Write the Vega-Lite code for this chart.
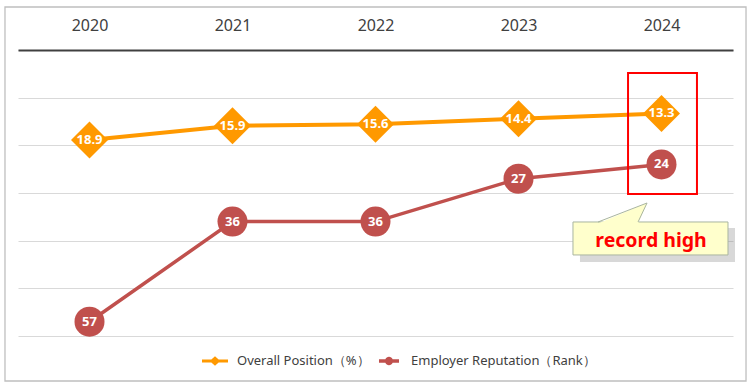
{
  "$schema": "https://vega.github.io/schema/vega-lite/v6.json",
  "width": 715,
  "height": 286,
  "autosize": {"type": "none"},
  "padding": {"left": 18, "top": 50, "right": 22, "bottom": 53},
  "background": "white",
  "config": {"view": {"stroke": null}, "font": "Noto Sans"},
  "datasets": {
    "series": [
      {"year": 2020, "series": "Overall Position（%）", "value": 18.9},
      {"year": 2021, "series": "Overall Position（%）", "value": 15.9},
      {"year": 2022, "series": "Overall Position（%）", "value": 15.6},
      {"year": 2023, "series": "Overall Position（%）", "value": 14.4},
      {"year": 2024, "series": "Overall Position（%）", "value": 13.3},
      {"year": 2020, "series": "Employer Reputation（Rank）", "value": 57},
      {"year": 2021, "series": "Employer Reputation（Rank）", "value": 36},
      {"year": 2022, "series": "Employer Reputation（Rank）", "value": 36},
      {"year": 2023, "series": "Employer Reputation（Rank）", "value": 27},
      {"year": 2024, "series": "Employer Reputation（Rank）", "value": 24}
    ]
  },
  "layer": [
    {
      "data": {"values": [{}]},
      "mark": {"type": "rect", "fill": null, "stroke": "#bfbfbf", "strokeWidth": 1.3},
      "encoding": {
        "x": {"datum": 2019.409, "type": "quantitative", "title": null, "scale": {"domain": [2019.5, 2024.5], "nice": false, "zero": false}, "axis": {"orient": "top", "values": [2020, 2021, 2022, 2023, 2024], "format": "d", "grid": false, "ticks": false, "domain": true, "domainColor": "#404040", "domainWidth": 2.2, "labelFontSize": 16, "labelColor": "#404040", "labelFont": "Noto Sans", "labelPadding": 17, "zindex": 1, "title": null}},
        "x2": {"datum": 2024.591},
        "y": {"datum": -9.02, "type": "quantitative", "title": null, "scale": {"domain": [0, 60], "reverse": true, "nice": false, "zero": false}, "axis": {"values": [0, 10, 20, 30, 40, 50, 60], "labels": false, "ticks": false, "domain": false, "grid": true, "gridColor": "#d9d9d9", "gridWidth": 1, "zindex": 0, "title": null}},
        "y2": {"datum": 69.44}
      }
    },
    {
      "data": {"name": "series"},
      "mark": {"type": "line"},
      "encoding": {
        "x": {"field": "year", "type": "quantitative", "title": null, "scale": {"domain": [2019.5, 2024.5], "nice": false, "zero": false}, "axis": {"orient": "top", "values": [2020, 2021, 2022, 2023, 2024], "format": "d", "grid": false, "ticks": false, "domain": true, "domainColor": "#404040", "domainWidth": 2.2, "labelFontSize": 16, "labelColor": "#404040", "labelFont": "Noto Sans", "labelPadding": 17, "zindex": 1, "title": null}},
        "y": {"field": "value", "type": "quantitative", "title": null, "scale": {"domain": [0, 60], "reverse": true, "nice": false, "zero": false}, "axis": {"values": [0, 10, 20, 30, 40, 50, 60], "labels": false, "ticks": false, "domain": false, "grid": true, "gridColor": "#d9d9d9", "gridWidth": 1, "zindex": 0, "title": null}},
        "detail": {"field": "series", "type": "nominal"},
        "color": {"condition": {"test": "datum.series === 'Overall Position（%）'", "value": "#ff9900"}, "value": "#c0504d"},
        "strokeWidth": {"condition": {"test": "datum.series === 'Overall Position（%）'", "value": 4}, "value": 3.5}
      }
    },
    {
      "data": {"name": "series"},
      "mark": {"type": "point", "filled": true, "opacity": 0, "strokeWidth": 0, "size": 0},
      "encoding": {
        "x": {"field": "year", "type": "quantitative", "title": null, "scale": {"domain": [2019.5, 2024.5], "nice": false, "zero": false}, "axis": {"orient": "top", "values": [2020, 2021, 2022, 2023, 2024], "format": "d", "grid": false, "ticks": false, "domain": true, "domainColor": "#404040", "domainWidth": 2.2, "labelFontSize": 16, "labelColor": "#404040", "labelFont": "Noto Sans", "labelPadding": 17, "zindex": 1, "title": null}},
        "y": {"field": "value", "type": "quantitative", "title": null, "scale": {"domain": [0, 60], "reverse": true, "nice": false, "zero": false}, "axis": {"values": [0, 10, 20, 30, 40, 50, 60], "labels": false, "ticks": false, "domain": false, "grid": true, "gridColor": "#d9d9d9", "gridWidth": 1, "zindex": 0, "title": null}},
        "color": {"field": "series", "type": "nominal",
          "scale": {"domain": ["Overall Position（%）", "Employer Reputation（Rank）"], "range": ["#ff9900", "#c0504d"]},
          "legend": {"orient": "none", "legendX": 184, "legendY": 298, "direction": "horizontal", "title": null,
            "labelFontSize": 13, "labelColor": "#404040", "labelFont": "Noto Sans", "labelLimit": 400, "symbolSize": 676,
            "symbolOpacity": 1, "symbolStrokeWidth": 0, "columnPadding": 6, "labelOffset": 9}},
        "shape": {"field": "series", "type": "nominal",
          "scale": {"domain": ["Overall Position（%）", "Employer Reputation（Rank）"], "range": ["M-1,-0.12L-0.28,-0.12L0,-0.36L0.28,-0.12L1,-0.12L1,0.12L0.28,0.12L0,0.36L-0.28,0.12L-1,0.12Z", "M-0.77,-0.13L-0.28,-0.13A0.3,0.3,0,0,1,0.28,-0.13L0.77,-0.13L0.77,0.13L0.28,0.13A0.3,0.3,0,0,1,-0.28,0.13L-0.77,0.13Z"]},
          "legend": {"orient": "none", "legendX": 184, "legendY": 298, "direction": "horizontal", "title": null,
            "labelFontSize": 13, "labelColor": "#404040", "labelFont": "Noto Sans", "labelLimit": 400, "symbolSize": 676,
            "symbolOpacity": 1, "symbolStrokeWidth": 0, "columnPadding": 6, "labelOffset": 9}}
      }
    },
    {
      "data": {"name": "series"},
      "mark": {"type": "point", "filled": true, "opacity": 1, "strokeWidth": 0},
      "encoding": {
        "x": {"field": "year", "type": "quantitative", "title": null, "scale": {"domain": [2019.5, 2024.5], "nice": false, "zero": false}, "axis": {"orient": "top", "values": [2020, 2021, 2022, 2023, 2024], "format": "d", "grid": false, "ticks": false, "domain": true, "domainColor": "#404040", "domainWidth": 2.2, "labelFontSize": 16, "labelColor": "#404040", "labelFont": "Noto Sans", "labelPadding": 17, "zindex": 1, "title": null}},
        "y": {"field": "value", "type": "quantitative", "title": null, "scale": {"domain": [0, 60], "reverse": true, "nice": false, "zero": false}, "axis": {"values": [0, 10, 20, 30, 40, 50, 60], "labels": false, "ticks": false, "domain": false, "grid": true, "gridColor": "#d9d9d9", "gridWidth": 1, "zindex": 0, "title": null}},
        "shape": {"condition": {"test": "datum.series === 'Overall Position（%）'", "value": "diamond"}, "value": "circle"},
        "size": {"condition": {"test": "datum.series === 'Overall Position（%）'", "value": 1369}, "value": 900},
        "color": {"condition": {"test": "datum.series === 'Overall Position（%）'", "value": "#ff9900"}, "value": "#c0504d"}
      }
    },
    {
      "data": {"name": "series"},
      "mark": {"type": "text", "color": "white", "fontWeight": "bold", "fontSize": 13, "font": "Noto Sans", "baseline": "middle", "align": "center"},
      "encoding": {
        "x": {"field": "year", "type": "quantitative", "title": null, "scale": {"domain": [2019.5, 2024.5], "nice": false, "zero": false}, "axis": {"orient": "top", "values": [2020, 2021, 2022, 2023, 2024], "format": "d", "grid": false, "ticks": false, "domain": true, "domainColor": "#404040", "domainWidth": 2.2, "labelFontSize": 16, "labelColor": "#404040", "labelFont": "Noto Sans", "labelPadding": 17, "zindex": 1, "title": null}},
        "y": {"field": "value", "type": "quantitative", "title": null, "scale": {"domain": [0, 60], "reverse": true, "nice": false, "zero": false}, "axis": {"values": [0, 10, 20, 30, 40, 50, 60], "labels": false, "ticks": false, "domain": false, "grid": true, "gridColor": "#d9d9d9", "gridWidth": 1, "zindex": 0, "title": null}},
        "text": {"field": "value", "type": "quantitative"}
      }
    },
    {
      "data": {"values": [{}]},
      "mark": {"type": "rect", "fill": null, "stroke": "#ff0000", "strokeWidth": 2},
      "encoding": {
        "x": {"datum": 2023.766, "type": "quantitative", "title": null, "scale": {"domain": [2019.5, 2024.5], "nice": false, "zero": false}, "axis": {"orient": "top", "values": [2020, 2021, 2022, 2023, 2024], "format": "d", "grid": false, "ticks": false, "domain": true, "domainColor": "#404040", "domainWidth": 2.2, "labelFontSize": 16, "labelColor": "#404040", "labelFont": "Noto Sans", "labelPadding": 17, "zindex": 1, "title": null}},
        "x2": {"datum": 2024.248},
        "y": {"datum": 4.83, "type": "quantitative", "title": null, "scale": {"domain": [0, 60], "reverse": true, "nice": false, "zero": false}, "axis": {"values": [0, 10, 20, 30, 40, 50, 60], "labels": false, "ticks": false, "domain": false, "grid": true, "gridColor": "#d9d9d9", "gridWidth": 1, "zindex": 0, "title": null}},
        "y2": {"datum": 30.2}
      }
    },
    {
      "data": {"values": [{}]},
      "mark": {"type": "rect", "fill": "#7f7f7f", "opacity": 0.3},
      "encoding": {
        "x": {"datum": 2023.43, "type": "quantitative", "title": null, "scale": {"domain": [2019.5, 2024.5], "nice": false, "zero": false}, "axis": {"orient": "top", "values": [2020, 2021, 2022, 2023, 2024], "format": "d", "grid": false, "ticks": false, "domain": true, "domainColor": "#404040", "domainWidth": 2.2, "labelFontSize": 16, "labelColor": "#404040", "labelFont": "Noto Sans", "labelPadding": 17, "zindex": 1, "title": null}},
        "x2": {"datum": 2024.514},
        "y": {"datum": 37.34, "type": "quantitative", "title": null, "scale": {"domain": [0, 60], "reverse": true, "nice": false, "zero": false}, "axis": {"values": [0, 10, 20, 30, 40, 50, 60], "labels": false, "ticks": false, "domain": false, "grid": true, "gridColor": "#d9d9d9", "gridWidth": 1, "zindex": 0, "title": null}},
        "y2": {"datum": 44.47}
      }
    },
    {
      "data": {"values": [{}]},
      "mark": {"type": "rect", "fill": "#ffffcc", "stroke": "#a9b5a0", "strokeWidth": 1},
      "encoding": {
        "x": {"datum": 2023.381, "type": "quantitative", "title": null, "scale": {"domain": [2019.5, 2024.5], "nice": false, "zero": false}, "axis": {"orient": "top", "values": [2020, 2021, 2022, 2023, 2024], "format": "d", "grid": false, "ticks": false, "domain": true, "domainColor": "#404040", "domainWidth": 2.2, "labelFontSize": 16, "labelColor": "#404040", "labelFont": "Noto Sans", "labelPadding": 17, "zindex": 1, "title": null}},
        "x2": {"datum": 2024.465},
        "y": {"datum": 36.08, "type": "quantitative", "title": null, "scale": {"domain": [0, 60], "reverse": true, "nice": false, "zero": false}, "axis": {"values": [0, 10, 20, 30, 40, 50, 60], "labels": false, "ticks": false, "domain": false, "grid": true, "gridColor": "#d9d9d9", "gridWidth": 1, "zindex": 0, "title": null}},
        "y2": {"datum": 43.0}
      }
    },
    {
      "data": {"values": [{}]},
      "mark": {"type": "point", "filled": true, "fill": "#ffffcc", "opacity": 1, "strokeWidth": 0, "shape": "M-0.96,0.44L0.64,0.44L1,-0.38Z", "size": 2500},
      "encoding": {
        "x": {"datum": 2023.724, "type": "quantitative", "title": null, "scale": {"domain": [2019.5, 2024.5], "nice": false, "zero": false}, "axis": {"orient": "top", "values": [2020, 2021, 2022, 2023, 2024], "format": "d", "grid": false, "ticks": false, "domain": true, "domainColor": "#404040", "domainWidth": 2.2, "labelFontSize": 16, "labelColor": "#404040", "labelFont": "Noto Sans", "labelPadding": 17, "zindex": 1, "title": null}},
        "y": {"datum": 34.09, "type": "quantitative", "title": null, "scale": {"domain": [0, 60], "reverse": true, "nice": false, "zero": false}, "axis": {"values": [0, 10, 20, 30, 40, 50, 60], "labels": false, "ticks": false, "domain": false, "grid": true, "gridColor": "#d9d9d9", "gridWidth": 1, "zindex": 0, "title": null}}
      }
    },
    {
      "data": {"values": [{}]},
      "mark": {"type": "point", "filled": false, "fill": null, "stroke": "#a9b5a0", "opacity": 1, "strokeWidth": 1, "shape": "M-0.96,0.38L1,-0.38L0.64,0.38", "size": 2500},
      "encoding": {
        "x": {"datum": 2023.724, "type": "quantitative", "title": null, "scale": {"domain": [2019.5, 2024.5], "nice": false, "zero": false}, "axis": {"orient": "top", "values": [2020, 2021, 2022, 2023, 2024], "format": "d", "grid": false, "ticks": false, "domain": true, "domainColor": "#404040", "domainWidth": 2.2, "labelFontSize": 16, "labelColor": "#404040", "labelFont": "Noto Sans", "labelPadding": 17, "zindex": 1, "title": null}},
        "y": {"datum": 34.09, "type": "quantitative", "title": null, "scale": {"domain": [0, 60], "reverse": true, "nice": false, "zero": false}, "axis": {"values": [0, 10, 20, 30, 40, 50, 60], "labels": false, "ticks": false, "domain": false, "grid": true, "gridColor": "#d9d9d9", "gridWidth": 1, "zindex": 0, "title": null}}
      }
    },
    {
      "data": {"values": [{}]},
      "mark": {"type": "text", "text": "record high", "color": "#ff0000", "fontWeight": "bold", "fontSize": 19.5, "font": "Noto Sans", "align": "center", "baseline": "middle"},
      "encoding": {
        "x": {"datum": 2023.927, "type": "quantitative", "title": null, "scale": {"domain": [2019.5, 2024.5], "nice": false, "zero": false}, "axis": {"orient": "top", "values": [2020, 2021, 2022, 2023, 2024], "format": "d", "grid": false, "ticks": false, "domain": true, "domainColor": "#404040", "domainWidth": 2.2, "labelFontSize": 16, "labelColor": "#404040", "labelFont": "Noto Sans", "labelPadding": 17, "zindex": 1, "title": null}},
        "y": {"datum": 40.07, "type": "quantitative", "title": null, "scale": {"domain": [0, 60], "reverse": true, "nice": false, "zero": false}, "axis": {"values": [0, 10, 20, 30, 40, 50, 60], "labels": false, "ticks": false, "domain": false, "grid": true, "gridColor": "#d9d9d9", "gridWidth": 1, "zindex": 0, "title": null}}
      }
    }
  ]
}
